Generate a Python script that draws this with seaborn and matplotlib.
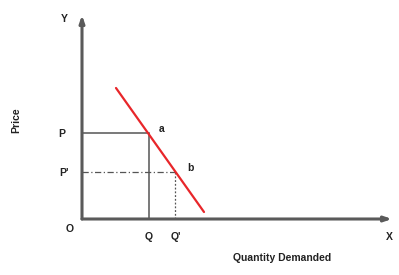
import matplotlib
matplotlib.use("Agg")
import matplotlib.pyplot as plt
import seaborn as sns
import pandas as pd

sns.set_theme(style="white")
plt.rcParams['font.family'] = ['Liberation Sans', 'DejaVu Sans']

# Demand curve (data units)
demand_q = [34, 122]
demand_p = [131, 7]
# Two points on the curve
pt_a = (67, 86)
pt_b = (93, 47)
axis_x_end = 310
axis_y_end = 204

fig = plt.figure(figsize=(3.99, 2.75), dpi=100)
ax = fig.add_axes([0, 0, 1, 1])
ax.set_xlim(-82, 317)
ax.set_ylim(-56, 219)
ax.axis('off')

axis_col = '#5a5a5a'
# axes with small arrows
arrow = dict(arrowstyle='-|>,head_length=0.35,head_width=0.12', color=axis_col, lw=2.2,
             shrinkA=0, shrinkB=0)
ax.annotate('', xy=(axis_x_end, 0), xytext=(0, 0), arrowprops=arrow)
ax.annotate('', xy=(0, axis_y_end), xytext=(0, 0), arrowprops=arrow)

# guide lines for a
ax.plot([0, pt_a[0]], [pt_a[1], pt_a[1]], color='#555555', lw=1.1)
ax.plot([pt_a[0], pt_a[0]], [0, pt_a[1]], color='#555555', lw=1.1)
# guide lines for b
ax.plot([0, pt_b[0]], [pt_b[1], pt_b[1]], color='#555555', lw=0.9, linestyle=(0, (5, 2, 1, 2)))
ax.plot([pt_b[0], pt_b[0]], [0, pt_b[1]], color='#555555', lw=0.9, linestyle=(0, (1.5, 1.5)))

df = pd.DataFrame({'q': demand_q, 'p': demand_p})
sns.lineplot(data=df, x='q', y='p', ax=ax, color='#e8262a', lw=1.6)

fs = 7.5
tk = dict(fontsize=fs, fontweight='bold', color='#222222')
ax.text(-18, 200, 'Y', ha='center', va='center', **tk)
ax.text(-20, pt_a[1] - 1, 'P', ha='center', va='center', **tk)
ax.text(-18, pt_b[1] - 1, "P'", ha='center', va='center', **tk)
ax.text(-12, -10, 'O', ha='center', va='center', **tk)
ax.text(pt_a[0], -18, 'Q', ha='center', va='center', **tk)
ax.text(pt_b[0] + 1, -18, "Q'", ha='center', va='center', **tk)
ax.text(307, -18, 'X', ha='center', va='center', **tk)
ax.text(pt_a[0] + 13, pt_a[1] + 4, 'a', ha='center', va='center', **tk)
ax.text(pt_b[0] + 15, pt_b[1] + 4, 'b', ha='center', va='center', **tk)
ax.text(200, -39, 'Quantity Demanded', ha='center', va='center', **tk)
ax.text(-66, 99, 'Price', ha='center', va='center', rotation=90, **tk)

fig.savefig('out.png', dpi=100)
